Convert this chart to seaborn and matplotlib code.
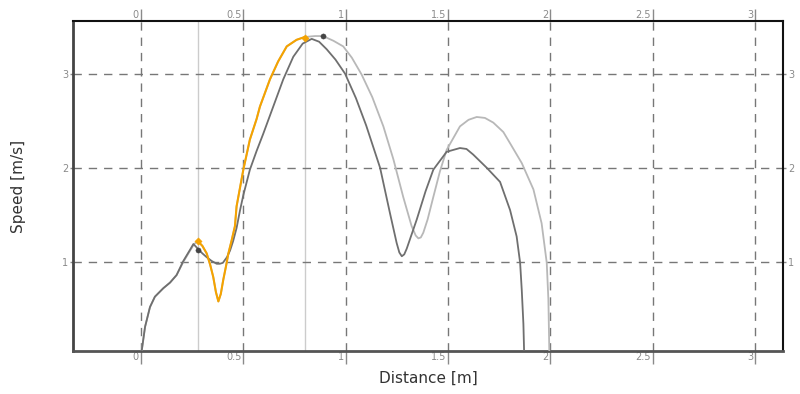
import numpy as np
import pandas as pd
import matplotlib
matplotlib.use("Agg")
import matplotlib.pyplot as plt
import matplotlib.transforms as mtransforms
import seaborn as sns

# Run A (dark grey) - distance [m] / speed [m/s]
dist_a = [0, 0.02, 0.044, 0.068, 0.109, 0.142, 0.174, 0.207, 0.24, 0.256,
          0.278, 0.30, 0.321, 0.345, 0.37, 0.385, 0.40, 0.42, 0.435, 0.45,
          0.467, 0.484, 0.50, 0.532, 0.565, 0.597, 0.646, 0.695, 0.744, 0.79,
          0.834, 0.87, 0.907, 0.95, 0.997, 1.05, 1.10, 1.168, 1.216, 1.249,
          1.262, 1.274, 1.286, 1.298, 1.347, 1.39, 1.428, 1.493, 1.558, 1.59,
          1.623, 1.689, 1.754, 1.803, 1.835, 1.852, 1.86, 1.868, 1.872]
speed_a = [0, 0.31, 0.52, 0.63, 0.72, 0.78, 0.86, 1.01, 1.13, 1.19,
           1.14, 1.09, 1.05, 1.01, 0.98, 0.98, 0.99, 1.05, 1.12, 1.22,
           1.36, 1.55, 1.71, 1.98, 2.18, 2.36, 2.65, 2.94, 3.18, 3.32,
           3.37, 3.34, 3.26, 3.15, 3.0, 2.74, 2.45, 2.0, 1.52, 1.20,
           1.10, 1.06, 1.08, 1.14, 1.45, 1.75, 1.98, 2.17, 2.21, 2.20,
           2.14, 2.0, 1.85, 1.55, 1.27, 0.99, 0.70, 0.34, 0.0]

# Run B (light grey, highlighted part in orange)
dist_b = [0, 0.02, 0.044, 0.068, 0.109, 0.142, 0.174, 0.207, 0.24, 0.26,
          0.278, 0.30, 0.321, 0.338, 0.353, 0.366, 0.378, 0.39, 0.402, 0.415,
          0.427, 0.443, 0.459, 0.467, 0.50, 0.532, 0.565, 0.581, 0.63, 0.67,
          0.712, 0.76, 0.80, 0.85, 0.889, 0.94, 0.988, 1.03, 1.078, 1.13,
          1.184, 1.233, 1.281, 1.322, 1.342, 1.355, 1.367, 1.379, 1.40, 1.428,
          1.46, 1.493, 1.558, 1.60, 1.64, 1.68, 1.721, 1.77, 1.803, 1.86,
          1.917, 1.957, 1.982, 1.99, 1.995]
speed_b = [0, 0.31, 0.52, 0.63, 0.72, 0.78, 0.86, 1.0, 1.12, 1.19,
           1.22, 1.17, 1.09, 0.97, 0.84, 0.68, 0.58, 0.66, 0.81, 0.95,
           1.09, 1.23, 1.38, 1.59, 1.98, 2.30, 2.52, 2.65, 2.94, 3.13,
           3.29, 3.36, 3.39, 3.40, 3.40, 3.35, 3.29, 3.17, 2.99, 2.75,
           2.44, 2.09, 1.69, 1.38, 1.28, 1.25, 1.26, 1.31, 1.45, 1.69,
           1.96, 2.19, 2.44, 2.51, 2.54, 2.53, 2.48, 2.38, 2.26, 2.05,
           1.77, 1.41, 0.99, 0.60, 0.0]

# selected interval (vertical lines) and markers
cursor_x = [0.278, 0.80]
marker_b_x = [0.278, 0.80]
marker_b_y = [1.22, 3.38]
marker_a_x = [0.278, 0.889]
marker_a_y = [1.13, 3.40]

xticks = [0, 0.5, 1, 1.5, 2, 2.5, 3]
xtick_labels = ["0", "0.5", "1", "1.5", "2", "2.5", "3"]
yticks = [1, 2, 3]

DARK = "#6f6f6f"
LIGHT = "#b8b8b8"
ORANGE = "#f5a300"
TICK_COLOR = "#8a8a8a"

sns.set_style("white")
plt.rcParams["font.family"] = ["DejaVu Sans"]

fig = plt.figure(figsize=(8, 3.94), dpi=100)
ax = fig.add_axes([73 / 800, 1 - 351 / 394, 710 / 800, 330 / 394])

df_a = pd.DataFrame({"dist": dist_a, "speed": speed_a})
df_b = pd.DataFrame({"dist": dist_b, "speed": speed_b})
df_sel = df_b[(df_b["dist"] >= cursor_x[0]) & (df_b["dist"] <= cursor_x[1])]

for cx in cursor_x:
    ax.axvline(cx, color="#cccccc", lw=1, zorder=1)

sns.lineplot(data=df_b, x="dist", y="speed", sort=False, color=LIGHT,
             lw=1.3, ax=ax, zorder=3)
sns.lineplot(data=df_a, x="dist", y="speed", sort=False, color=DARK,
             lw=1.3, ax=ax, zorder=4)
sns.lineplot(data=df_sel, x="dist", y="speed", sort=False, color=ORANGE,
             lw=1.5, ax=ax, zorder=5)

sns.scatterplot(x=marker_b_x, y=marker_b_y, color=ORANGE, marker="D", s=14,
                edgecolor=ORANGE, ax=ax, zorder=6)
sns.scatterplot(x=marker_a_x, y=marker_a_y, color="#444444", marker="o", s=14,
                edgecolor="#444444", ax=ax, zorder=6)

ax.set_xlim(-0.332, 3.136)
ax.set_ylim(0.053, 3.56)

ax.set_xticks(xticks)
ax.set_xticklabels(xtick_labels)
ax.set_yticks(yticks)
ax.set_yticklabels([str(v) for v in yticks])

# dashed grid
for gx in xticks:
    ax.axvline(gx, color="#777777", lw=1, ls=(0, (6, 5)), zorder=2)
for gy in yticks:
    ax.axhline(gy, color="#777777", lw=1, ls=(0, (6, 5)), zorder=2)

ax.tick_params(axis="x", which="major", top=True, bottom=True,
               labeltop=True, labelbottom=True, direction="out",
               length=9, width=1, pad=-8.5, colors=TICK_COLOR, labelsize=7)
ax.tick_params(axis="y", which="major", left=True, right=True,
               labelleft=True, labelright=True, direction="out",
               length=2, width=1, pad=1.5, colors=TICK_COLOR, labelsize=7)

# labels sit just left of their tick mark
shift = mtransforms.ScaledTranslation(-2 / 100, 0, fig.dpi_scale_trans)
for t in ax.xaxis.get_major_ticks():
    for lab in (t.label1, t.label2):
        lab.set_ha("right")
        lab.set_transform(lab.get_transform() + shift)

ax.spines["left"].set_color("#444444")
ax.spines["left"].set_linewidth(2)
ax.spines["bottom"].set_color("#555555")
ax.spines["bottom"].set_linewidth(2)
ax.spines["top"].set_color("#111111")
ax.spines["top"].set_linewidth(1.5)
ax.spines["right"].set_color("#111111")
ax.spines["right"].set_linewidth(1.5)

ax.set_xlabel("Distance [m]", fontsize=11, color="#333333")
ax.set_ylabel("Speed [m/s]", fontsize=11, color="#333333")
ax.xaxis.set_label_coords(0.5, -0.06)
ax.yaxis.set_label_coords(-0.066, 0.5)

fig.savefig("out.png", dpi=100)
